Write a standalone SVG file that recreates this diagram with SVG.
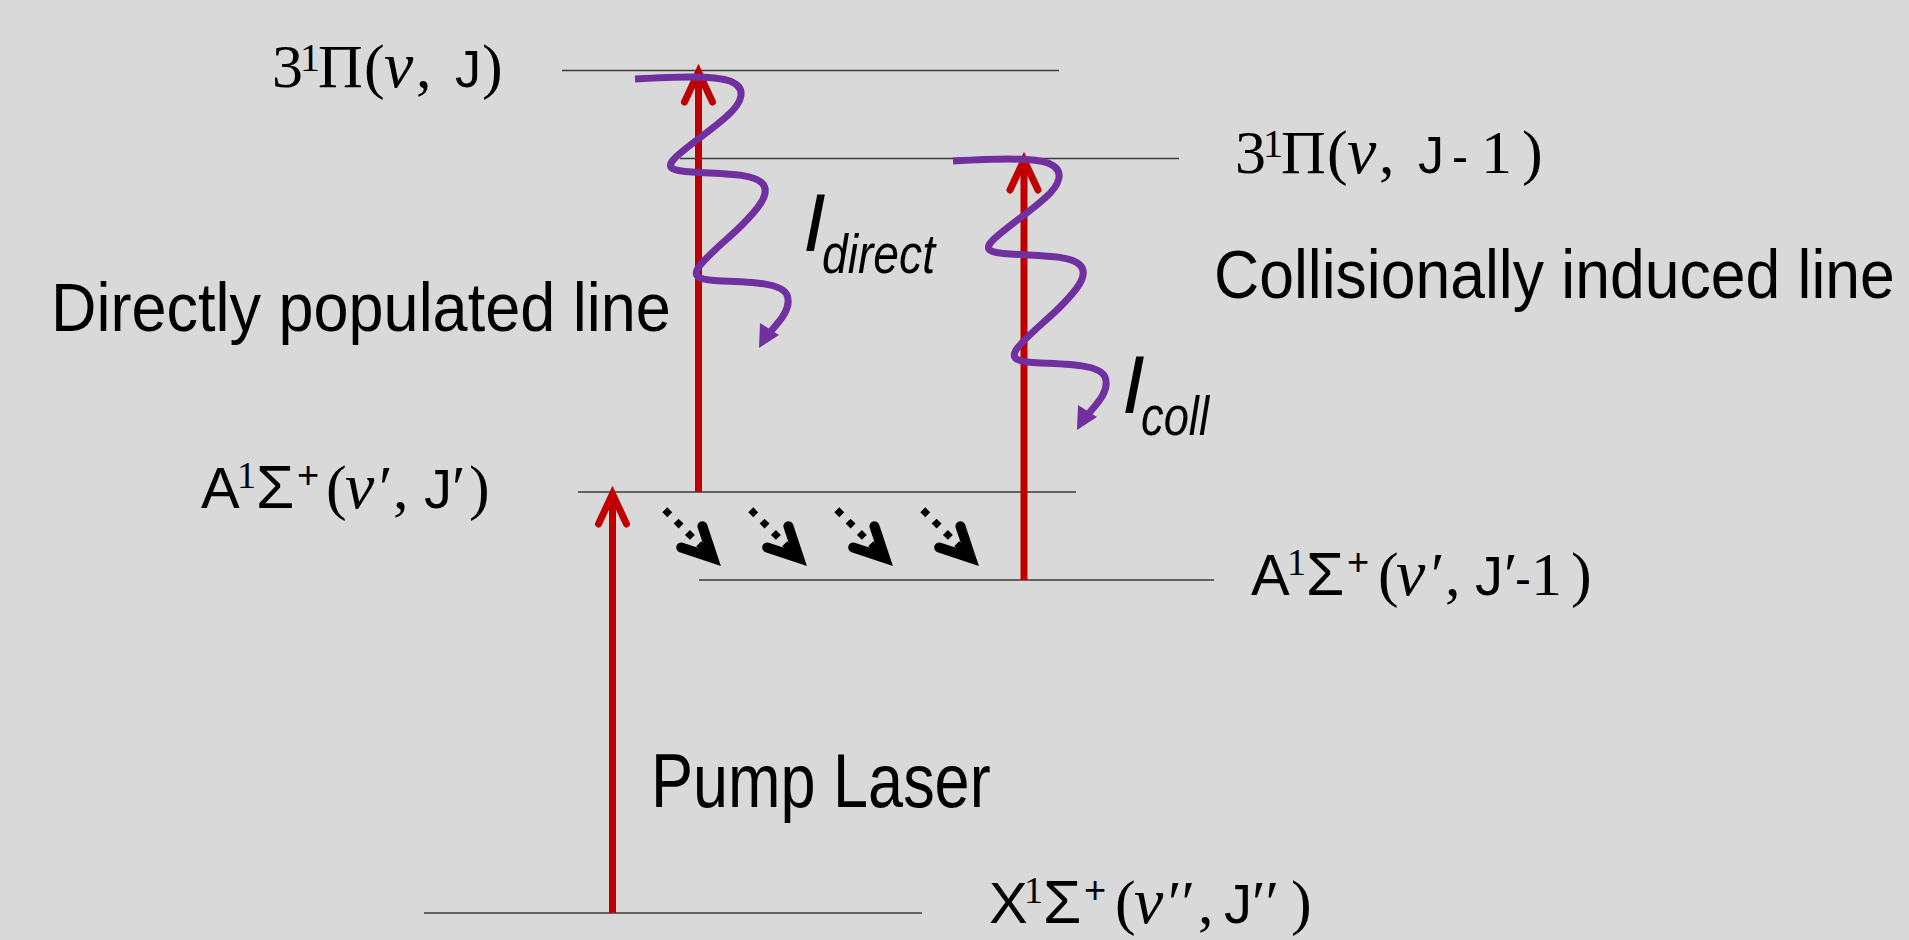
<svg xmlns="http://www.w3.org/2000/svg" width="1909" height="940" viewBox="0 0 1909 940">
<style>
.lvl{stroke:#3a3a3a;stroke-width:1.6;fill:none}
.red{stroke:#C00000;stroke-width:7;fill:none}
.wave{stroke:#7030A0;stroke-width:7;fill:none;stroke-linecap:butt}
.dot{stroke:#000;stroke-width:7;stroke-dasharray:7 9;fill:none}
.sr{font-family:"Liberation Serif",serif;font-size:62px}
.si{font-family:"Liberation Serif",serif;font-style:italic;font-size:66px}
.ss{font-family:"Liberation Sans",Arial,sans-serif}
.lab{font-family:"Liberation Sans",Arial,sans-serif;fill:#000}
text{fill:#000}
</style>
<defs>
<marker id="redhead" markerUnits="userSpaceOnUse" orient="auto" refX="0" refY="0" overflow="visible" markerWidth="1" markerHeight="1">
<path d="M-30,-14 L0,0 L-30,14" fill="none" stroke="#C00000" stroke-width="7" stroke-linecap="round" stroke-linejoin="miter"/>
</marker>
<marker id="blkhead" markerUnits="userSpaceOnUse" orient="auto" refX="0" refY="0" overflow="visible" markerWidth="1" markerHeight="1">
<path d="M-30,-15 L0,0 L-30,15" fill="none" stroke="#000" stroke-width="10" stroke-linecap="round" stroke-linejoin="miter"/>
<path d="M-14,-6 L0,0 L-14,6 Z" fill="#000"/>
</marker>
</defs>
<rect x="0" y="0" width="1909" height="940" fill="#D9D9D9"/>

<g id="level-3Pi-J">
<line class="lvl" x1="562" y1="70.5" x2="1059" y2="70.5"/>
<text y="87"><tspan class="sr" x="272">3</tspan><tspan class="sr" x="300" y="71" style="font-size:40px">1</tspan><tspan class="sr" x="318" y="87">Π</tspan><tspan class="sr" x="364">(</tspan><tspan class="si" x="384">v</tspan><tspan class="sr" x="416">,</tspan><tspan class="ss" x="455" style="font-size:52px">J</tspan><tspan class="sr" x="482">)</tspan></text>
</g>

<g id="level-3Pi-J-1">
<line class="lvl" x1="680" y1="158.5" x2="1179" y2="158.5"/>
<text y="173"><tspan class="sr" x="1235">3</tspan><tspan class="sr" x="1263" y="157" style="font-size:40px">1</tspan><tspan class="sr" x="1281" y="173">Π</tspan><tspan class="sr" x="1327">(</tspan><tspan class="si" x="1347">v</tspan><tspan class="sr" x="1379">,</tspan><tspan class="ss" x="1418" style="font-size:52px">J</tspan><tspan class="ss" x="1452" style="font-size:48px">-</tspan><tspan class="sr" x="1481">1</tspan><tspan class="sr" x="1522">)</tspan></text>
</g>

<g id="level-A-J">
<line class="lvl" x1="578" y1="492" x2="1076" y2="492"/>
<text y="508"><tspan class="ss" x="201" style="font-size:58px">A</tspan><tspan class="sr" x="237" y="488" style="font-size:38px">1</tspan><tspan class="ss" x="256" y="508" style="font-size:62px">Σ</tspan><tspan class="ss" x="297" y="488" style="font-size:38px">+</tspan><tspan class="sr" x="326" y="508">(</tspan><tspan class="si" x="345">v</tspan><tspan class="sr" x="379">′</tspan><tspan class="sr" x="393">,</tspan><tspan class="ss" x="424" style="font-size:56px">J</tspan><tspan class="sr" x="452">′</tspan><tspan class="sr" x="469">)</tspan></text>
</g>

<g id="level-A-J-1">
<line class="lvl" x1="699" y1="580" x2="1214" y2="580"/>
<text y="595"><tspan class="ss" x="1251" style="font-size:58px">A</tspan><tspan class="sr" x="1287" y="575" style="font-size:38px">1</tspan><tspan class="ss" x="1306" y="595" style="font-size:62px">Σ</tspan><tspan class="ss" x="1347" y="575" style="font-size:38px">+</tspan><tspan class="sr" x="1378" y="595">(</tspan><tspan class="si" x="1396">v</tspan><tspan class="sr" x="1431">′</tspan><tspan class="sr" x="1445">,</tspan><tspan class="ss" x="1475" style="font-size:56px">J</tspan><tspan class="sr" x="1504">′</tspan><tspan class="ss" x="1515" style="font-size:48px">-</tspan><tspan class="sr" x="1531">1</tspan><tspan class="sr" x="1571">)</tspan></text>
</g>

<g id="level-X">
<line class="lvl" x1="424" y1="913" x2="922" y2="913"/>
<text y="923"><tspan class="ss" x="989" style="font-size:58px">X</tspan><tspan class="sr" x="1024" y="903" style="font-size:38px">1</tspan><tspan class="ss" x="1043" y="923" style="font-size:62px">Σ</tspan><tspan class="ss" x="1084" y="903" style="font-size:38px">+</tspan><tspan class="sr" x="1115" y="923">(</tspan><tspan class="si" x="1134">v</tspan><tspan class="sr" x="1168">′′</tspan><tspan class="sr" x="1198">,</tspan><tspan class="ss" x="1224" style="font-size:56px">J</tspan><tspan class="sr" x="1252">′′</tspan><tspan class="sr" x="1291">)</tspan></text>
</g>

<g id="connectors">
<line class="red" x1="612.5" y1="913" x2="612.5" y2="494" marker-end="url(#redhead)"/>
<line class="red" x1="698.5" y1="492" x2="698.5" y2="72" marker-end="url(#redhead)"/>
<line class="red" x1="1024" y1="580" x2="1024" y2="160" marker-end="url(#redhead)"/>

<g id="wave-coll">
<path class="wave" d="M953,161 C990,159 1030,157 1048,163 C1066,170 1060,185 1045,198 C1030,212 1005,228 993,240 C983,250 990,253 1010,254 C1040,256 1070,255 1080,265 C1090,275 1075,292 1060,307 C1045,322 1025,337 1016,350 C1010,360 1020,362 1040,363 C1070,364 1100,365 1105,377 C1110,390 1098,403 1089,413"/>
<polygon points="1077,430 1078,405 1097,417" fill="#7030A0"/>
</g>
<g id="wave-direct" transform="translate(-318,-82)">
<path class="wave" d="M953,161 C990,159 1030,157 1048,163 C1066,170 1060,185 1045,198 C1030,212 1005,228 993,240 C983,250 990,253 1010,254 C1040,256 1070,255 1080,265 C1090,275 1075,292 1060,307 C1045,322 1025,337 1016,350 C1010,360 1020,362 1040,363 C1070,364 1100,365 1105,377 C1110,390 1098,403 1089,413"/>
<polygon points="1077,430 1078,405 1097,417" fill="#7030A0"/>
</g>

<g id="relax-arrows">
<line class="dot" x1="664.8" y1="509.8" x2="713" y2="558" marker-end="url(#blkhead)"/>
<line class="dot" x1="750.8" y1="509.8" x2="799" y2="558" marker-end="url(#blkhead)"/>
<line class="dot" x1="836.8" y1="509.8" x2="885" y2="558" marker-end="url(#blkhead)"/>
<line class="dot" x1="922.8" y1="509.8" x2="971" y2="558" marker-end="url(#blkhead)"/>
</g>
</g>

<g id="label-direct-line"><text class="lab" transform="translate(51,331) scale(1,1.1)" x="0" y="0" font-size="63">Directly populated line</text></g>
<g id="label-coll-line"><text class="lab" transform="translate(1214,298) scale(1,1.1)" x="0" y="0" font-size="62.5">Collisionally induced line</text></g>
<g id="label-pump"><text class="lab" transform="translate(651,807) scale(1,1.2)" x="0" y="0" font-size="63">Pump Laser</text></g>
<g id="label-Idirect"><text class="lab" font-style="italic"><tspan x="803" y="251" font-size="82">I</tspan><tspan x="822" y="273" font-size="56" textLength="113" lengthAdjust="spacingAndGlyphs">direct</tspan></text></g>
<g id="label-Icoll"><text class="lab" font-style="italic"><tspan x="1122" y="413" font-size="82">I</tspan><tspan x="1141" y="435" font-size="56" textLength="68" lengthAdjust="spacingAndGlyphs">coll</tspan></text></g>
</svg>
